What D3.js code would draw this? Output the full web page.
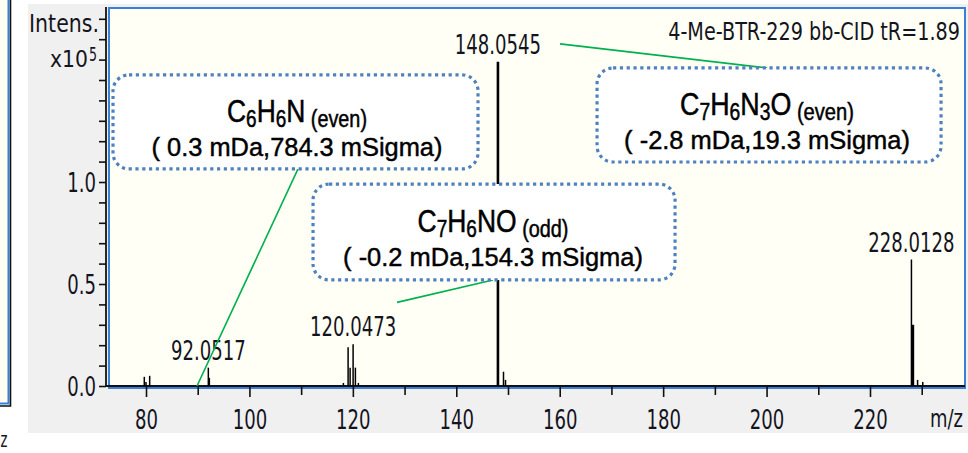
<!DOCTYPE html>
<html>
<head>
<meta charset="utf-8">
<script src="https://cdn.jsdelivr.net/npm/d3@7/dist/d3.min.js"></script>
<style>
  html, body { margin: 0; padding: 0; background: #ffffff; }
  svg { display: block; }
</style>
</head>
<body>
<svg id="chart" width="968" height="453"></svg>
<script>
// ---- spectrum sticks: m/z and intensity (x10^5) ----
const peakMz  = [79.67, 80.0, 80.71, 92.0517, 92.25, 118.17, 119.08, 119.47, 120.0473, 120.49, 121.07,
                 148.0545, 149.13, 149.52, 228.0128, 228.2, 228.4, 229.2, 230.2];
const peakInt = [0.045, 0.02, 0.05, 0.09, 0.04, 0.015, 0.19, 0.09, 0.205, 0.09, 0.015,
                 1.59, 0.07, 0.03, 0.62, 0.30, 0.30, 0.03, 0.02];

// ---- labelled peaks ----
const labelMz   = [92.0517, 120.0473, 148.0545, 228.0128];
const labelText = ["92.0517", "120.0473", "148.0545", "228.0128"];

// ---- axis ticks ----
const xMajorTicks = [80, 100, 120, 140, 160, 180, 200, 220];
const xMinorTicks = [90, 110, 130, 150, 170, 190, 210, 230];
const yLabelTicks = [0.0, 0.5, 1.0];
const yLabelText  = ["0.0", "0.5", "1.0"];
const yMinorTicks = [0.1, 0.2, 0.3, 0.4, 0.6, 0.7, 0.8, 0.9, 1.1, 1.2, 1.3, 1.4, 1.5, 1.6, 1.7, 1.8];

// ---- formula annotations ----
const formulaParts = [
  [["C",""],["6","sub"],["H",""],["6","sub"],["N",""],[" (even)","tag"]],
  [["C",""],["7","sub"],["H",""],["6","sub"],["N",""],["O",""],[" (odd)","tag"]],
  [["C",""],["7","sub"],["H",""],["6","sub"],["N",""],["3","sub"],["O",""],[" (even)","tag"]]
];
const formulaErrors = ["( 0.3 mDa,784.3 mSigma)", "( -0.2 mDa,154.3 mSigma)", "( -2.8 mDa,19.3 mSigma)"];

const title = "4-Me-BTR-229 bb-CID tR=1.89";

// ---------------------------------------------------------------
const svg = d3.select("#chart");
const W = 968, H = 453;

// frame geometry
const plot = { left: 108, right: 966, top: 7, bottom: 388 };
const x = d3.scaleLinear().domain([80, 220]).range([146, 870]);
const y = d3.scaleLinear().domain([0, 1]).range([386, 182]);

const tickFont = "'DejaVu Sans', Verdana, sans-serif";
const noteFont = "'Liberation Sans', Arial, sans-serif";
const textCol = "#141420";

// squeeze a text horizontally so that it fills a given width
function squeeze(sel, tx, ty, targetW) {
  const w = sel.node().getBBox().width;
  const sx = w > 0 ? targetW / w : 1;
  sel.attr("transform", `translate(${tx},${ty}) scale(${sx},1)`);
}
function condensed(sel, tx, ty, sx) {
  sel.attr("transform", `translate(${tx},${ty}) scale(${sx},1)`);
}

// ---- neighbouring panel fragment on the far left ----
svg.append("rect").attr("x", 0).attr("y", 0).attr("width", 8).attr("height", 403).attr("fill", "#fffff4");
svg.append("path").attr("d", "M8.5,0 V403.5 H0").attr("fill", "none").attr("stroke", "#3a7fd8").attr("stroke-width", 2);
svg.append("path").attr("d", "M10.5,0 V406 H0").attr("fill", "none").attr("stroke", "#111").attr("stroke-width", 1.6);
svg.append("text").attr("font-family", tickFont).attr("font-size", 22).attr("fill", textCol)
  .attr("text-anchor", "start").attr("transform", "translate(0.5,447) scale(0.6,1)").text("z");

// ---- grey window background ----
svg.append("rect").attr("x", 28).attr("y", 4).attr("width", W - 28).attr("height", 429).attr("fill", "#f0f0f0");

// ---- plot area ----
svg.append("rect")
  .attr("x", plot.left + 1).attr("y", plot.top + 1)
  .attr("width", plot.right - plot.left - 2).attr("height", plot.bottom - plot.top - 1)
  .attr("fill", "#fffff5").attr("stroke", "#3a7fd8").attr("stroke-width", 2);

// axis lines
svg.append("line").attr("x1", 106).attr("x2", 106).attr("y1", plot.top).attr("y2", 387)
  .attr("stroke", "#111").attr("stroke-width", 1.8);
svg.append("line").attr("x1", 106).attr("x2", plot.right - 1).attr("y1", 386).attr("y2", 386)
  .attr("stroke", "#111").attr("stroke-width", 1.8);

// ---- x axis ----
const gxMinor = svg.append("g").attr("transform", "translate(0,387)")
  .call(d3.axisBottom(x).tickValues(xMinorTicks).tickSize(8).tickFormat(""));
const gxMajor = svg.append("g").attr("transform", "translate(0,387)")
  .call(d3.axisBottom(x).tickValues(xMajorTicks).tickSize(10).tickPadding(13).tickFormat(d3.format("d")));
[gxMinor, gxMajor].forEach(g => {
  g.select(".domain").remove();
  g.selectAll(".tick line").attr("stroke", "#111").attr("stroke-width", 1.6);
});
gxMajor.selectAll(".tick text")
  .attr("font-family", tickFont).attr("font-size", 27).attr("fill", textCol)
  .attr("transform", "scale(0.67,1)");

// ---- y axis ----
const gyMinor = svg.append("g").attr("transform", "translate(106,0)")
  .call(d3.axisLeft(y).tickValues(yMinorTicks).tickSize(7).tickFormat(""));
const gyMajor = svg.append("g").attr("transform", "translate(106,0)")
  .call(d3.axisLeft(y).tickValues(yLabelTicks).tickSize(7)
    .tickFormat(d => yLabelText[yLabelTicks.indexOf(d)]));
[gyMinor, gyMajor].forEach(g => {
  g.select(".domain").remove();
  g.selectAll(".tick line").attr("stroke", "#111").attr("stroke-width", 1.6);
});
gyMajor.selectAll(".tick text")
  .attr("font-family", tickFont).attr("font-size", 27).attr("fill", textCol)
  .attr("x", 0).attr("dy", "0.36em")
  .attr("transform", "translate(-10,0) scale(0.67,1)");

// axis captions
const intens = svg.append("text").attr("font-family", tickFont).attr("font-size", 25)
  .attr("fill", textCol).attr("text-anchor", "end").text("Intens.");
squeeze(intens, 99, 32, 70);
const x10 = svg.append("text").attr("font-family", tickFont).attr("font-size", 23)
  .attr("fill", textCol).attr("text-anchor", "end").text("x10");
squeeze(x10, 88, 67, 38);
const sup5 = svg.append("text").attr("font-family", tickFont).attr("font-size", 19)
  .attr("fill", textCol).attr("text-anchor", "start").text("5");
squeeze(sup5, 89, 61, 8);

const mzLab = svg.append("text").attr("font-family", tickFont).attr("font-size", 25)
  .attr("fill", textCol).attr("text-anchor", "end").text("m/z");
squeeze(mzLab, 963, 427, 33);

const ttl = svg.append("text").attr("font-family", tickFont).attr("font-size", 24)
  .attr("fill", textCol).attr("text-anchor", "end").text(title);
squeeze(ttl, 960, 40, 292);

// ---- spectrum ----
const peaks = peakMz.map((m, i) => ({ m, v: peakInt[i] }));
svg.append("g").selectAll("line").data(peaks).join("line")
  .attr("x1", d => x(d.m)).attr("x2", d => x(d.m))
  .attr("y1", y(0)).attr("y2", d => y(d.v))
  .attr("stroke", "#000")
  .attr("stroke-width", d => d.v > 1 ? 2.6 : 1.5);

// peak labels
labelMz.forEach((m, i) => {
  const v = peakInt[peakMz.indexOf(m)];
  const t = svg.append("text").attr("font-family", tickFont).attr("font-size", 27)
    .attr("fill", textCol).attr("text-anchor", "middle").text(labelText[i]);
  condensed(t, x(m), y(v) - 8, 0.67);
});

// ---- formula call-outs (boxes placed in data coordinates) ----
const boxes = [
  { m0: 73.62,  m1: 144.2,  v0: 1.525, v1: 1.064, cx: 297, w1: 140, w2: 291,
    lead: [[109.4, 1.064], [89.86, 0]] },
  { m0: 112.30, m1: 182.30, v0: 0.990, v1: 0.520, cx: 493, w1: 151, w2: 300,
    lead: [[147.1, 0.520], [128.54, 0.41]] },
  { m0: 167.22, m1: 233.74, v0: 1.559, v1: 1.098, cx: 767, w1: 174, w2: 286,
    lead: [[160.06, 1.677], [200.09, 1.559]] }
];

// leader lines
boxes.forEach(b => {
  svg.append("line")
    .attr("x1", x(b.lead[0][0])).attr("y1", y(b.lead[0][1]))
    .attr("x2", x(b.lead[1][0])).attr("y2", y(b.lead[1][1]))
    .attr("stroke", "#00b050").attr("stroke-width", 1.6);
});

boxes.forEach((b, i) => {
  const bx = x(b.m0), by = y(b.v0), bw = x(b.m1) - x(b.m0), bh = y(b.v1) - y(b.v0);
  svg.append("rect")
    .attr("x", bx).attr("y", by).attr("width", bw).attr("height", bh)
    .attr("rx", 16).attr("ry", 16)
    .attr("fill", "#ffffff")
    .attr("stroke", "#4f81bd").attr("stroke-width", 3.2)
    .attr("stroke-dasharray", "3.2 3.6");

  const cy = by + bh / 2;
  // formula line: element symbols at full size, counts and parity tag lowered
  const t1 = svg.append("text").attr("font-family", noteFont).attr("fill", "#000")
    .attr("stroke", "#000").attr("stroke-width", 0.5)
    .attr("text-anchor", "middle").attr("font-size", 32).attr("xml:space", "preserve");
  let low = false;
  formulaParts[i].forEach(([s, kind]) => {
    const ts = t1.append("tspan").text(s);
    const isLow = kind === "sub" || kind === "tag";
    if (kind === "sub") ts.attr("font-size", 23);
    if (kind === "tag") ts.attr("font-size", 24);
    ts.attr("dy", isLow === low ? 0 : (isLow ? 5 : -5));
    low = isLow;
  });
  squeeze(t1, b.cx, cy, b.w1);

  // error line
  const t2 = svg.append("text").attr("font-family", noteFont).attr("fill", "#000")
    .attr("stroke", "#000").attr("stroke-width", 0.45)
    .attr("text-anchor", "middle").attr("font-size", 26).text(formulaErrors[i]);
  squeeze(t2, b.cx, cy + 34, b.w2);
});
</script>
</body>
</html>
